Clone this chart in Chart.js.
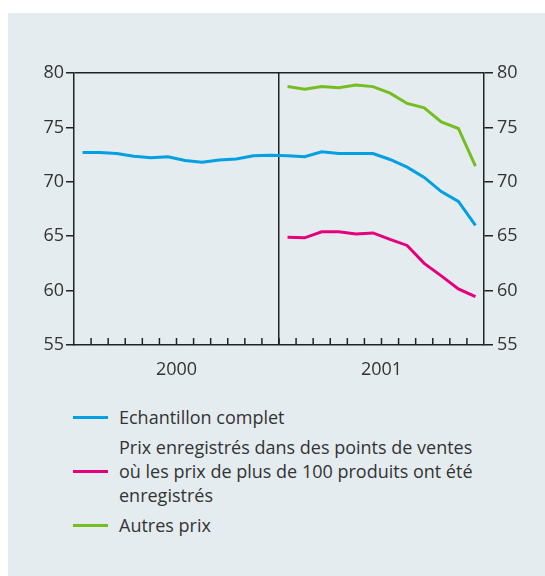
<!DOCTYPE html>
<html>
<head>
<meta charset="utf-8">
<script src="https://cdn.jsdelivr.net/npm/chart.js@4/dist/chart.umd.min.js"></script>
<style>
  body { margin: 0; background: #fff; }
  #panel { position: absolute; left: 8px; top: 13px; width: 537px; height: 563px; background: #e5ecf0; }
  #chart { position: absolute; left: 0; top: 0; }
  #legend { position: absolute; left: 65px; top: 392px; font-family: "Open Sans", sans-serif; font-size: 18px; color: #333; }
  .item { display: flex; align-items: center; margin-bottom: 6px; }
  .swatch { width: 35px; height: 3px; margin-right: 11px; }
  .txt { line-height: 24px; }
</style>
</head>
<body>
<div id="panel">
  <canvas id="chart" width="537" height="390"></canvas>
  <div id="legend"></div>
</div>
<script>
// mois de janvier 2000 a decembre 2001
var mois = ['jan 00','fev 00','mar 00','avr 00','mai 00','jun 00','jul 00','aou 00','sep 00','oct 00','nov 00','dec 00',
            'jan 01','fev 01','mar 01','avr 01','mai 01','jun 01','jul 01','aou 01','sep 01','oct 01','nov 01','dec 01'];
var annees = ['2000', '2001'];
var yTicks = [55, 60, 65, 70, 75, 80];

var complet = [72.7, 72.7, 72.6, 72.35, 72.2, 72.3, 71.95, 71.8, 72.0, 72.1, 72.4, 72.45,
               72.4, 72.3, 72.75, 72.6, 72.6, 72.6, 72.05, 71.35, 70.4, 69.1, 68.2, 66.0];
var grandsPoints = [null, null, null, null, null, null, null, null, null, null, null, null,
                    64.9, 64.85, 65.4, 65.4, 65.2, 65.3, 64.7, 64.15, 62.5, 61.35, 60.15, 59.45];
var autres = [null, null, null, null, null, null, null, null, null, null, null, null,
              78.75, 78.5, 78.75, 78.65, 78.9, 78.75, 78.15, 77.2, 76.8, 75.5, 74.9, 71.45];

var labelComplet = ['Echantillon complet'];
var labelGrands = ['Prix enregistrés dans des points de ventes', 'où les prix de plus de 100 produits ont été', 'enregistrés'];
var labelAutres = ['Autres prix'];

var bleu = '#00a0e2', rose = '#e4007d', vert = '#76bd22';
var noir = '#222';
var police = { family: '"Open Sans", sans-serif', size: 18 };

var series = [
  { lignes: labelComplet, data: complet, couleur: bleu },
  { lignes: labelGrands, data: grandsPoints, couleur: rose },
  { lignes: labelAutres, data: autres, couleur: vert }
];

// petits traits vers l'interieur sur l'axe des mois
var traitsMois = {
  id: 'traitsMois',
  afterDatasetsDraw: function(chart) {
    var xs = chart.scales.x, bas = chart.chartArea.bottom;
    var ctx = chart.ctx;
    ctx.save();
    ctx.strokeStyle = noir;
    ctx.lineWidth = 1.5;
    for (var i = 1; i < mois.length; i++) {
      var px = (xs.getPixelForValue(i - 1) + xs.getPixelForValue(i)) / 2;
      ctx.beginPath();
      ctx.moveTo(px, bas);
      ctx.lineTo(px, bas - 7);
      ctx.stroke();
    }
    ctx.restore();
  }
};

var ctx = document.getElementById('chart').getContext('2d');
var chart = new Chart(ctx, {
  type: 'line',
  data: {
    labels: mois,
    datasets: series.map(function(s) {
      return {
        label: s.lignes.join(' '),
        data: s.data,
        borderColor: s.couleur,
        borderWidth: 3,
        pointRadius: 0,
        tension: 0,
        spanGaps: false,
        yAxisID: 'y'
      };
    })
  },
  options: {
    responsive: false,
    animation: false,
    layout: { padding: { top: 60, left: 0, right: 0, bottom: 0 } },
    plugins: { legend: { display: false }, tooltip: { enabled: false } },
    scales: {
      x: {
        type: 'category',
        offset: true,
        grid: {
          offset: true,
          drawTicks: false,
          lineWidth: 1.5,
          color: function(c) { return c.index === 12 ? noir : 'rgba(0,0,0,0)'; }
        },
        border: { display: true, color: noir, width: 1.5 },
        ticks: { display: false },
        afterFit: function(s) { s.height = 0; }
      },
      annee: {
        type: 'category',
        labels: annees,
        position: 'bottom',
        offset: true,
        grid: { display: false },
        border: { display: false },
        ticks: { color: '#333', font: police, padding: 6 },
        afterFit: function(s) { s.height = 58; }
      },
      y: {
        position: 'left',
        min: 55, max: 80,
        afterBuildTicks: function(s) { s.ticks = yTicks.map(function(v) { return { value: v }; }); },
        grid: {
          drawOnChartArea: true,
          tickLength: 8,
          lineWidth: 1.5,
          tickColor: noir,
          color: function(c) { return c.tick && c.tick.value === 80 ? noir : 'rgba(0,0,0,0)'; }
        },
        border: { display: true, color: noir, width: 1.5 },
        ticks: { color: '#333', font: police, padding: 2 },
        afterFit: function(s) { s.width = 66; }
      },
      y2: {
        position: 'right',
        min: 55, max: 80,
        afterBuildTicks: function(s) { s.ticks = yTicks.map(function(v) { return { value: v }; }); },
        grid: { drawOnChartArea: false, tickLength: 9, lineWidth: 1.5, tickColor: noir, color: noir },
        border: { display: true, color: noir, width: 1.5 },
        ticks: { color: '#333', font: police, padding: 4 },
        afterFit: function(s) { s.width = 61; }
      }
    }
  },
  plugins: [traitsMois]
});

// legende sous le graphique
var leg = document.getElementById('legend');
series.forEach(function(s) {
  var item = document.createElement('div');
  item.className = 'item';
  var sw = document.createElement('div');
  sw.className = 'swatch';
  sw.style.background = s.couleur;
  var t = document.createElement('div');
  t.className = 'txt';
  t.innerHTML = s.lignes.join('<br>');
  item.appendChild(sw);
  item.appendChild(t);
  leg.appendChild(item);
});
</script>
</body>
</html>
